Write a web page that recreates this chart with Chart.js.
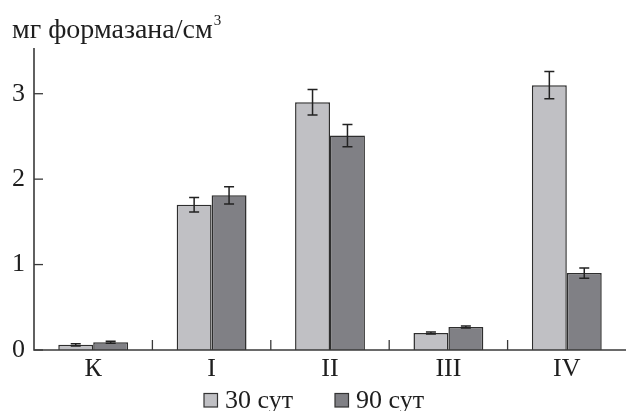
<!DOCTYPE html>
<html>
<head>
<meta charset="utf-8">
<script src="https://cdn.jsdelivr.net/npm/chart.js@4/dist/chart.umd.min.js"></script>
<style>
  html, body { margin: 0; padding: 0; background: #fff; }
  #wrap { width: 626px; height: 411px; }
</style>
</head>
<body>
<div id="wrap"><canvas id="c" width="626" height="411"></canvas></div>
<script>
// Groups along the x axis
const categories = ['К', 'I', 'II', 'III', 'IV'];
// Mean activity, mg formazan per cm³
const days30 = [0.06, 1.70, 2.90, 0.20, 3.10];
const days90 = [0.09, 1.81, 2.51, 0.27, 0.90];
// Error half-widths
const err30 = [0.012, 0.085, 0.15, 0.012, 0.16];
const err90 = [0.012, 0.10, 0.13, 0.012, 0.06];
// Series names and y tick values
const seriesNames = ['30 сут', '90 сут'];
const yTicks = [0, 1, 2, 3];

const FONT = '"Liberation Serif", "Times New Roman", serif';
const AXIS = '#3a3a3a';
const TEXT = '#1e1e1e';

// Error bars, inward tick marks, unit label and legend
const decorations = {
  id: 'decorations',
  afterDatasetsDraw(chart) {
    const ctx = chart.ctx;
    const x = chart.scales.x, y = chart.scales.y;
    const area = chart.chartArea;
    const errs = [err30, err90];
    ctx.save();
    // error bars
    ctx.strokeStyle = '#222';
    ctx.lineWidth = 1.5;
    chart.data.datasets.forEach((ds, di) => {
      const meta = chart.getDatasetMeta(di);
      meta.data.forEach((bar, i) => {
        const v = ds.data[i], e = errs[di][i];
        const yt = y.getPixelForValue(v + e), yb = y.getPixelForValue(v - e);
        const cx = bar.x, cap = 5;
        ctx.beginPath();
        ctx.moveTo(cx, yt); ctx.lineTo(cx, yb);
        ctx.moveTo(cx - cap, yt); ctx.lineTo(cx + cap, yt);
        ctx.moveTo(cx - cap, yb); ctx.lineTo(cx + cap, yb);
        ctx.stroke();
      });
    });
    // axis lines
    ctx.strokeStyle = AXIS;
    ctx.lineWidth = 1.6;
    ctx.beginPath();
    ctx.moveTo(area.left, area.top - 3);
    ctx.lineTo(area.left, area.bottom);
    ctx.lineTo(area.right, area.bottom);
    ctx.stroke();
    // y ticks pointing into the plot
    ctx.lineWidth = 1.3;
    yTicks.forEach(t => {
      const py = y.getPixelForValue(t);
      ctx.beginPath();
      ctx.moveTo(area.left, py); ctx.lineTo(area.left + 9, py);
      ctx.stroke();
    });
    // x ticks at group boundaries
    for (let i = 0; i < categories.length - 1; i++) {
      const px = (x.getPixelForValue(i) + x.getPixelForValue(i + 1)) / 2;
      ctx.beginPath();
      ctx.moveTo(px, area.bottom); ctx.lineTo(px, area.bottom - 10);
      ctx.stroke();
    }
    // unit label
    ctx.fillStyle = TEXT;
    ctx.font = '28px ' + FONT;
    ctx.textBaseline = 'alphabetic';
    ctx.textAlign = 'left';
    const unit = 'мг формазана/см';
    ctx.fillText(unit, 12, 38);
    const w = ctx.measureText(unit).width;
    ctx.font = '15px ' + FONT;
    ctx.fillText('3', 12 + w + 1, 25);
    // legend
    ctx.font = '26px ' + FONT;
    const legendX = [204, 335];
    chart.data.datasets.forEach((ds, di) => {
      const lx = legendX[di];
      ctx.fillStyle = ds.backgroundColor;
      ctx.fillRect(lx, 393.5, 13.5, 13.5);
      ctx.strokeStyle = '#333';
      ctx.lineWidth = 1.2;
      ctx.strokeRect(lx, 393.5, 13.5, 13.5);
      ctx.fillStyle = TEXT;
      ctx.fillText(ds.label, lx + 21, 408);
    });
    ctx.restore();
  }
};

new Chart(document.getElementById('c'), {
  type: 'bar',
  data: {
    labels: categories,
    datasets: [
      { label: seriesNames[0], data: days30, backgroundColor: '#c0c0c4', borderColor: '#2e2e2e', borderWidth: 1.5 },
      { label: seriesNames[1], data: days90, backgroundColor: '#808085', borderColor: '#2e2e2e', borderWidth: 1.5 }
    ]
  },
  options: {
    responsive: false,
    animation: false,
    layout: { padding: { top: 51, right: 0, bottom: 0, left: 0 } },
    datasets: { bar: { categoryPercentage: 0.59, barPercentage: 1.0 } },
    plugins: { legend: { display: false }, tooltip: { enabled: false }, title: { display: false } },
    scales: {
      x: {
        grid: { display: false, drawTicks: false },
        border: { display: false },
        ticks: { color: TEXT, font: { family: FONT, size: 26 }, padding: 4 },
        afterFit(s) { s.height = 61; }
      },
      y: {
        min: 0, max: 3.5,
        grid: { display: false, drawTicks: false },
        border: { display: false },
        ticks: { stepSize: 1, includeBounds: false, color: TEXT, font: { family: FONT, size: 26 }, padding: 9 },
        afterFit(s) { s.width = 34; }
      }
    }
  },
  plugins: [decorations]
});
</script>
</body>
</html>
